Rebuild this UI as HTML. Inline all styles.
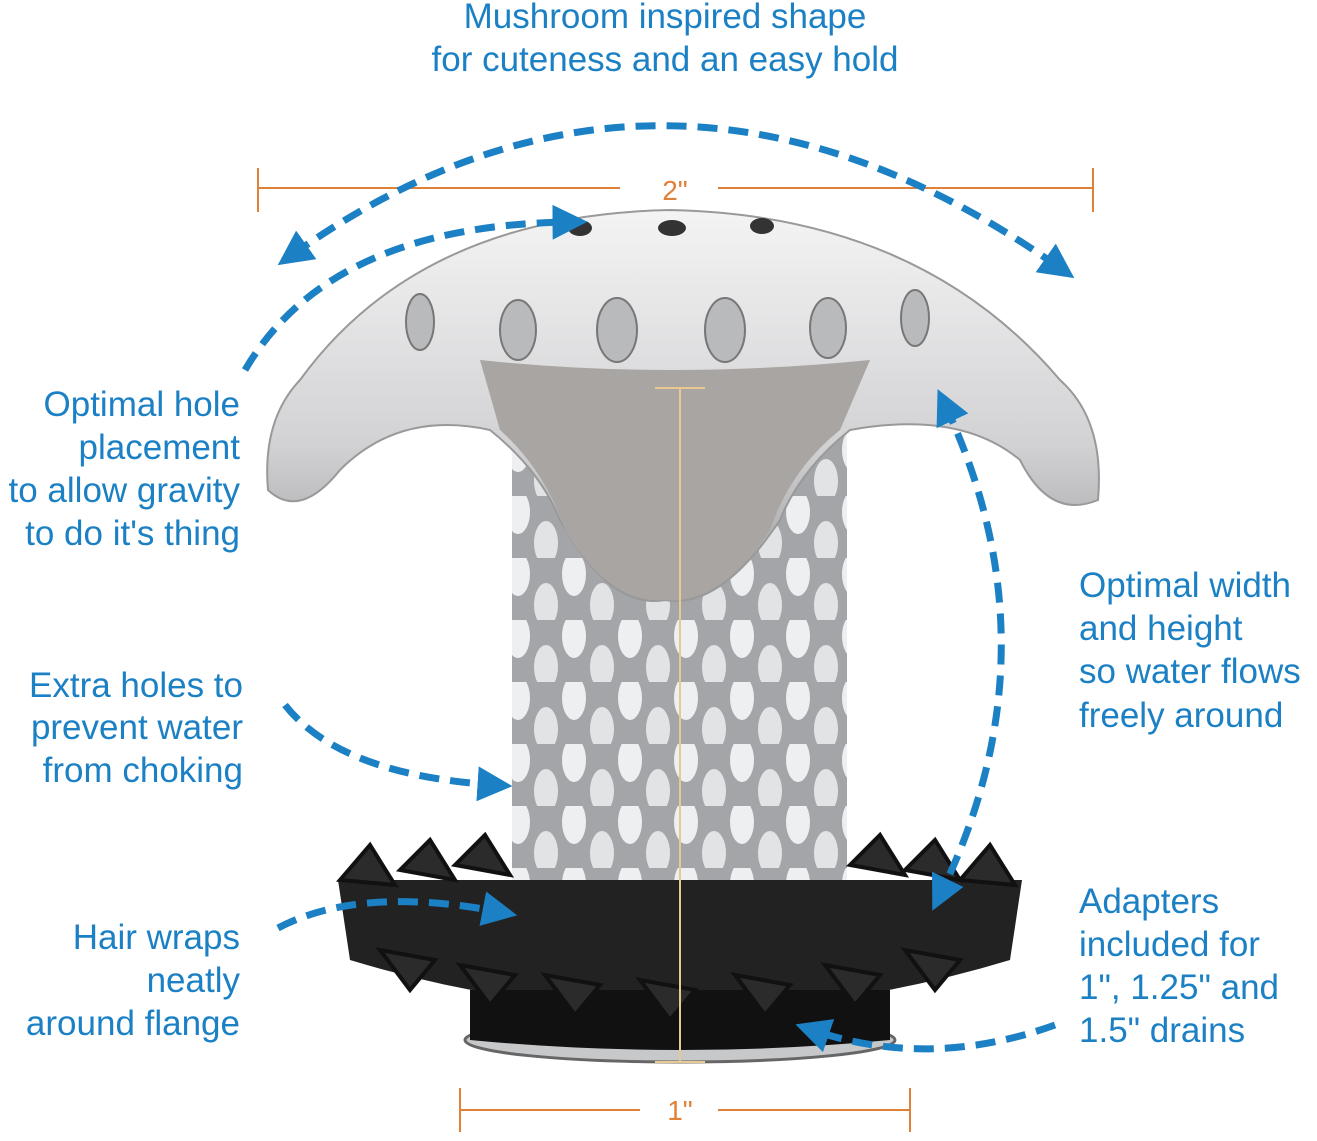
<!DOCTYPE html>
<html><head><meta charset="utf-8"><style>
html,body{margin:0;padding:0;background:#fff;}
svg{display:block}
text{font-family:"Liberation Sans",sans-serif;font-size:35px;fill:#1b80c4}
</style></head><body>
<svg width="1317" height="1141" viewBox="0 0 1317 1141" xmlns="http://www.w3.org/2000/svg">
<defs>
<pattern id="holes" x="0" y="0" width="56" height="62" patternUnits="userSpaceOnUse">
<rect width="56" height="62" fill="#a3a5a8"/>
<ellipse cx="14" cy="16" rx="12" ry="22" fill="#eeeff0"/>
<ellipse cx="42" cy="47" rx="12" ry="22" fill="#e2e3e5"/>
</pattern>
<linearGradient id="cap" x1="0" y1="0" x2="0" y2="1">
<stop offset="0" stop-color="#f4f4f5"/><stop offset="0.6" stop-color="#d2d2d4"/><stop offset="1" stop-color="#9a9a9c"/>
</linearGradient>
<marker id="ah" viewBox="0 0 10 10" refX="5" refY="5" markerWidth="5" markerHeight="5" orient="auto-start-reverse">
<path d="M0,0 L10,5 L0,10 z" fill="#1b80c4"/>
</marker>
</defs>

<text x="665" y="28" text-anchor="middle">Mushroom inspired shape</text>
<text x="665" y="71" text-anchor="middle">for cuteness and an easy hold</text>

<rect x="512" y="390" width="335" height="520" fill="url(#holes)"/>
<ellipse cx="680" cy="1040" rx="215" ry="22" fill="#c7c8ca" stroke="#666" stroke-width="3"/>
<path d="M338,880 L1022,880 L1010,960 Q680,1060 350,960 Z" fill="#222"/>
<path d="M470,990 L890,990 L890,1040 Q680,1060 470,1040 Z" fill="#111"/>
<g fill="#2b2b2b" stroke="#111" stroke-width="4">
<path d="M340,880 l30,-35 l25,40 z"/><path d="M400,870 l30,-30 l25,40 z"/><path d="M455,865 l30,-30 l25,40 z"/>
<path d="M850,865 l30,-30 l25,40 z"/><path d="M905,870 l30,-30 l25,40 z"/><path d="M960,880 l30,-35 l25,40 z"/>
<path d="M380,950 l30,40 l25,-30 z"/><path d="M460,965 l30,40 l25,-30 z"/><path d="M545,975 l30,40 l25,-30 z"/>
<path d="M640,980 l30,40 l25,-30 z"/><path d="M735,975 l30,40 l25,-30 z"/><path d="M825,965 l30,40 l25,-30 z"/><path d="M905,950 l30,40 l25,-30 z"/>
</g>
<path d="M300,380 Q420,215 670,210 Q920,215 1060,380 Q1105,420 1098,500 Q1050,520 1020,460 Q960,410 850,430 Q800,470 780,520 Q720,610 665,600 Q610,610 560,520 Q540,470 490,430 Q400,410 340,470 Q300,520 268,490 Q262,420 300,380 Z" fill="url(#cap)" stroke="#999" stroke-width="2"/>
<path d="M480,360 Q670,380 870,360 L840,430 Q790,470 770,530 Q720,605 665,600 Q610,605 565,530 Q545,470 500,430 Z" fill="#a8a5a2"/>
<g fill="#b9babc" stroke="#777" stroke-width="2">
<ellipse cx="420" cy="322" rx="14" ry="28"/><ellipse cx="518" cy="330" rx="18" ry="30"/><ellipse cx="617" cy="330" rx="20" ry="32"/>
<ellipse cx="725" cy="330" rx="20" ry="32"/><ellipse cx="828" cy="328" rx="18" ry="30"/><ellipse cx="915" cy="318" rx="14" ry="28"/>
</g>
<g fill="#333">
<ellipse cx="580" cy="228" rx="12" ry="8"/><ellipse cx="672" cy="228" rx="14" ry="8"/><ellipse cx="762" cy="226" rx="12" ry="8"/>
</g>

<g stroke="#e0813a" stroke-width="2" fill="none">
<path d="M258,188 H620 M718,188 H1093 M258,168 V212 M1093,168 V212"/>
<path d="M460,1110 H640 M718,1110 H910 M460,1088 V1132 M910,1088 V1132"/>
<path d="M680,388 V1062 M655,388 H705 M655,1062 H705" stroke="#e8c98f"/>
</g>
<text x="675" y="200" text-anchor="middle" style="fill:#e0813a;font-size:28px">2"</text>
<text x="680" y="1120" text-anchor="middle" style="fill:#e0813a;font-size:28px">1"</text>

<g stroke="#1b80c4" stroke-width="7" fill="none" stroke-dasharray="20 11" marker-start="url(#ah)" marker-end="url(#ah)">
<path d="M292,255 Q665,-10 1060,268"/>
<path d="M245,370 Q330,225 570,222" marker-start="none"/>
<path d="M945,405 Q1060,650 940,895"/>
<path d="M285,705 Q340,775 495,785" marker-start="none"/>
<path d="M278,928 Q360,885 500,912" marker-start="none"/>
<path d="M1055,1025 Q930,1070 812,1030" marker-start="none"/>
</g>

<g text-anchor="end">
<text x="240" y="416">Optimal hole</text>
<text x="240" y="459">placement</text>
<text x="240" y="502">to allow gravity</text>
<text x="240" y="545">to do it's thing</text>
<text x="243" y="697">Extra holes to</text>
<text x="243" y="739">prevent water</text>
<text x="243" y="782">from choking</text>
<text x="240" y="949">Hair wraps</text>
<text x="240" y="992">neatly</text>
<text x="240" y="1035">around flange</text>
</g>
<text x="1079" y="597">Optimal width</text>
<text x="1079" y="640">and height</text>
<text x="1079" y="683">so water flows</text>
<text x="1079" y="727">freely around</text>
<text x="1079" y="913">Adapters</text>
<text x="1079" y="956">included for</text>
<text x="1079" y="999">1", 1.25" and</text>
<text x="1079" y="1042">1.5" drains</text>
</svg>
</body></html>
